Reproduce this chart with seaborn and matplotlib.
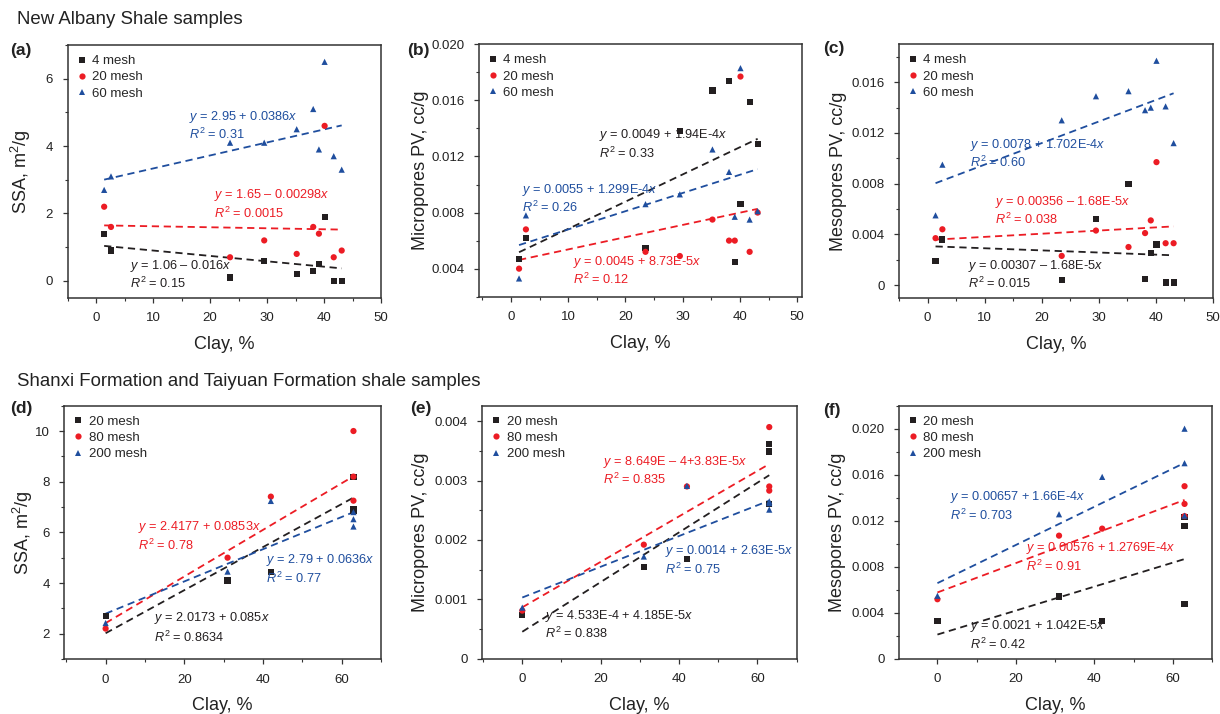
"""Clay content vs. SSA / micropore PV / mesopore PV for two shale sample sets."""

import matplotlib

matplotlib.use("Agg")

import matplotlib.pyplot as plt
import numpy as np
import pandas as pd
import seaborn as sns
from matplotlib.ticker import AutoMinorLocator, FuncFormatter, MultipleLocator

# ---- New Albany Shale samples -------------------------------------------
NA_CLAY = [1.4, 2.6, 23.5, 29.5, 35.2, 38.1, 39.1, 40.1, 41.7, 43.1]
NA_MESH = ["4 mesh", "20 mesh", "60 mesh"]

SSA_4 = [1.4, 0.9, 0.1, 0.6, 0.2, 0.3, 0.5, 1.9, 0.0, 0.0]
SSA_20 = [2.2, 1.6, 0.7, 1.2, 0.8, 1.6, 1.4, 4.6, 0.7, 0.9]
SSA_60 = [2.7, 3.1, 4.1, 4.1, 4.5, 5.1, 3.9, 6.5, 3.7, 3.3]

MICRO_4 = [0.0047, 0.0062, 0.0055, 0.0138, 0.0167, 0.0174, 0.0045, 0.0086, 0.0159, 0.0129]
MICRO_20 = [0.0040, 0.0068, 0.0052, 0.0049, 0.0075, 0.0060, 0.0060, 0.0177, 0.0052, 0.0080]
MICRO_60 = [0.0033, 0.0078, 0.0086, 0.0093, 0.0125, 0.0109, 0.0077, 0.0183, 0.0075, 0.0081]

MESO_4 = [0.0019, 0.0036, 0.0004, 0.0052, 0.0080, 0.0005, 0.0025, 0.0032, 0.0002, 0.0002]
MESO_20 = [0.0037, 0.0044, 0.0023, 0.0043, 0.0030, 0.0041, 0.0051, 0.0097, 0.0033, 0.0033]
MESO_60 = [0.0055, 0.0095, 0.0130, 0.0149, 0.0153, 0.0138, 0.0140, 0.0177, 0.0141, 0.0112]

# ---- Shanxi / Taiyuan Formation samples ---------------------------------
SX_CLAY = [0, 31, 42, 63, 63, 63]
SX_MESH = ["20 mesh", "80 mesh", "200 mesh"]

SSA_S20 = [2.7, 4.1, 4.43, 8.18, 6.92, 6.85]
SSA_S80 = [2.2, 5.0, 7.41, 10.0, 8.2, 7.25]
SSA_S200 = [2.42, 4.45, 7.24, 6.8, 6.52, 6.23]

MICRO_S20 = [0.00074, 0.00154, 0.00168, 0.00362, 0.00349, 0.00261]
MICRO_S80 = [0.00081, 0.00192, 0.00290, 0.00390, 0.00290, 0.00283]
MICRO_S200 = [0.00086, 0.00172, 0.00291, 0.00265, 0.00251, 0.00262]

MESO_S20 = [0.00326, 0.00541, 0.00328, 0.01233, 0.01151, 0.00474]
MESO_S80 = [0.00517, 0.01070, 0.01131, 0.01500, 0.01346, 0.01240]
MESO_S200 = [0.00547, 0.01256, 0.01581, 0.02000, 0.01700, 0.01244]

# ---- fitted lines as drawn: (intercept, slope) ----------------------------
FIT_SSA = [(1.06, -0.016), (1.65, -0.00298), (2.95, 0.0386)]
FIT_MICRO = [(0.0049, 1.94e-4), (0.0045, 8.73e-5), (0.0055, 1.299e-4)]
FIT_MESO = [(0.00307, -1.68e-5), (0.00355, 2.5e-5), (0.0078, 1.702e-4)]
FIT_SSA_S = [(2.0173, 0.085), (2.4177, 0.092), (2.79, 0.0636)]
FIT_MICRO_S = [(4.533e-4, 4.185e-5), (8.649e-4, 3.83e-5), (0.00103, 2.59e-5)]
FIT_MESO_S = [(0.0021, 1.042e-4), (0.00576, 1.2769e-4), (0.00657, 1.66e-4)]

# ---- equation labels ------------------------------------------------------
EQ_SSA = [("$y$ = 1.06 – 0.016$x$", "0.15"), ("$y$ = 1.65 – 0.00298$x$", "0.0015"),
          ("$y$ = 2.95 + 0.0386$x$", "0.31")]
EQ_MICRO = [("$y$ = 0.0049 + 1.94E-4$x$", "0.33"), ("$y$ = 0.0045 + 8.73E-5$x$", "0.12"),
            ("$y$ = 0.0055 + 1.299E-4$x$", "0.26")]
EQ_MESO = [("$y$ = 0.00307 – 1.68E-5$x$", "0.015"), ("$y$ = 0.00356 – 1.68E-5$x$", "0.038"),
           ("$y$ = 0.0078 + 1.702E-4$x$", "0.60")]
EQ_SSA_S = [("$y$ = 2.0173 + 0.085$x$", "0.8634"), ("$y$ = 2.4177 + 0.0853$x$", "0.78"),
            ("$y$ = 2.79 + 0.0636$x$", "0.77")]
EQ_MICRO_S = [("$y$ = 4.533E-4 + 4.185E-5$x$", "0.838"), ("$y$ = 8.649E – 4+3.83E-5$x$", "0.835"),
              ("$y$ = 0.0014 + 2.63E-5$x$", "0.75")]
EQ_MESO_S = [("$y$ = 0.0021 + 1.042E-5$x$", "0.42"), ("$y$ = 0.00576 + 1.2769E-4$x$", "0.91"),
             ("$y$ = 0.00657 + 1.66E-4$x$", "0.703")]

COLORS = ["#231f20", "#ec1c24", "#1f4e9e"]
MARKERS = ["s", "o", "^"]

sns.set_theme(style="ticks")
plt.rcParams["font.family"] = ["Liberation Sans", "DejaVu Sans"]
plt.rcParams["mathtext.fontset"] = "custom"
plt.rcParams["mathtext.rm"] = "Liberation Sans"
plt.rcParams["mathtext.it"] = "Liberation Sans:italic"


def fmt_y(v, _):
    if abs(v) < 1e-12:
        return "0"
    if abs(v - round(v)) < 1e-9:
        return f"{v:.0f}"
    return f"{v:.3f}"


def panel(ax, clay, series, meshes, fits, eqs, eq_pos, xlim, ylim, xstep, ystep, ylabel, ylab_x):
    df = pd.DataFrame({
        "clay": list(clay) * 3,
        "value": [v for s in series for v in s],
        "mesh": [m for m in meshes for _ in clay],
    })
    # fitted lines
    xs = np.array([min(clay), max(clay)])
    for (b0, b1), c in zip(fits, COLORS):
        ax.plot(xs, b0 + b1 * xs, ls=(0, (4, 2.6)), lw=1.3, color=c, zorder=2)
    sns.scatterplot(
        data=df, x="clay", y="value", hue="mesh", style="mesh",
        hue_order=meshes, style_order=meshes,
        palette=dict(zip(meshes, COLORS)), markers=dict(zip(meshes, MARKERS)),
        s=20, linewidth=0, ax=ax, zorder=3,
    )
    handles, labels = ax.get_legend_handles_labels()
    ax.legend(handles, labels, loc="upper left", frameon=False, fontsize=9.5,
              handlelength=0.6, handletextpad=0.5, labelspacing=0.3,
              borderaxespad=0.25, borderpad=0.5)

    for (eq, r2), (tx, ty, dy), c in zip(eqs, eq_pos, COLORS):
        ax.text(tx, ty, eq, color=c, fontsize=9.2, va="center", ha="left")
        ax.text(tx, ty - dy, "$R^{\\mathrm{2}}$ = " + r2, color=c, fontsize=9.2,
                va="center", ha="left")

    ax.set_xlim(*xlim)
    ax.set_ylim(*ylim)
    ax.xaxis.set_major_locator(MultipleLocator(xstep))
    ax.yaxis.set_major_locator(MultipleLocator(ystep))
    ax.xaxis.set_minor_locator(AutoMinorLocator(2))
    ax.yaxis.set_minor_locator(AutoMinorLocator(2))
    ax.yaxis.set_major_formatter(FuncFormatter(fmt_y))
    ax.tick_params(which="major", direction="out", length=3.5, width=0.9,
                   labelsize=9.5, pad=7, color="#333333", labelcolor="#222222")
    ax.tick_params(which="minor", direction="out", length=2, width=0.8, color="#333333")
    for sp in ax.spines.values():
        sp.set_linewidth(1.1)
        sp.set_color("#333333")
    ax.set_xlabel("Clay, %", fontsize=13, color="#222222")
    ax.set_ylabel(ylabel, fontsize=13, color="#222222")
    ax.xaxis.set_label_coords(0.5, -0.15)
    ax.yaxis.set_label_coords(ylab_x, 0.5)


fig = plt.figure(figsize=(12.2, 7.14), dpi=100)
W, H = 1220, 714


def add_axes(l, t, r, b):
    return fig.add_axes([l / W, 1 - b / H, (r - l) / W, (b - t) / H])


ax_a = add_axes(67.7, 45, 381, 297.7)
ax_b = add_axes(479, 44.3, 801.7, 296.7)
ax_c = add_axes(899, 44.3, 1213, 297.7)
ax_d = add_axes(64.3, 405.7, 381, 659)
ax_e = add_axes(482.3, 405.7, 796.7, 658.7)
ax_f = add_axes(899, 405.7, 1212, 658.7)

panel(ax_a, NA_CLAY, [SSA_4, SSA_20, SSA_60], NA_MESH, FIT_SSA, EQ_SSA,
      [(6.0, 0.44, 0.53), (20.7, 2.55, 0.54), (16.3, 4.87, 0.52)],
      (-5, 50), (-0.5, 7), 10, 2, "SSA, m$^{\\mathrm{2}}$/g", -0.111)
panel(ax_b, NA_CLAY, [MICRO_4, MICRO_20, MICRO_60], NA_MESH, FIT_MICRO, EQ_MICRO,
      [(15.3, 0.01355, 0.0013), (10.9, 0.0045, 0.0013), (1.9, 0.0096, 0.00126)],
      (-5.6, 50.8), (0.002, 0.020), 10, 0.004, "Micropores PV, cc/g", -0.155)
panel(ax_c, NA_CLAY, [MESO_4, MESO_20, MESO_60], NA_MESH, FIT_MESO, EQ_MESO,
      [(7.0, 0.00153, 0.0014), (11.8, 0.00655, 0.0014), (7.4, 0.01104, 0.0014)],
      (-5, 50), (-0.001, 0.019), 10, 0.004, "Mesopores PV, cc/g", -0.166)
panel(ax_d, SX_CLAY, [SSA_S20, SSA_S80, SSA_S200], SX_MESH, FIT_SSA_S, EQ_SSA_S,
      [(12.2, 2.6, 0.73), (8.2, 6.23, 0.73), (40.7, 4.91, 0.73)],
      (-10.5, 70), (1, 11), 20, 2, "SSA, m$^{\\mathrm{2}}$/g", -0.092)
panel(ax_e, SX_CLAY, [MICRO_S20, MICRO_S80, MICRO_S200], SX_MESH, FIT_MICRO_S, EQ_MICRO_S,
      [(5.9, 0.000718, 0.0003), (20.6, 0.003316, 0.0003), (36.4, 0.001812, 0.0003)],
      (-10.2, 70), (0, 0.00426), 20, 0.001, "Micropores PV, cc/g", -0.17)
panel(ax_f, SX_CLAY, [MESO_S20, MESO_S80, MESO_S200], SX_MESH, FIT_MESO_S, EQ_MESO_S,
      [(8.2, 0.00285, 0.0016), (22.5, 0.00962, 0.0016), (3.1, 0.01407, 0.0016)],
      (-9.8, 70), (0, 0.022), 20, 0.004, "Mesopores PV, cc/g", -0.17)

# section titles and panel tags
fig.text(17 / W, 1 - 19 / H, "New Albany Shale samples", fontsize=13.4,
         va="center", ha="left", color="#222222")
fig.text(17 / W, 1 - 381 / H, "Shanxi Formation and Taiyuan Formation shale samples",
         fontsize=13.4, va="center", ha="left", color="#222222")
for tag, x, y in [("(a)", 10, 50), ("(b)", 407, 50), ("(c)", 823, 49),
                  ("(d)", 10, 408), ("(e)", 410, 409), ("(f)", 823, 411)]:
    fig.text(x / W, 1 - y / H, tag, fontsize=12.5, fontweight="bold",
             va="center", ha="left", color="#222222")

fig.savefig("out.png", dpi=100)
